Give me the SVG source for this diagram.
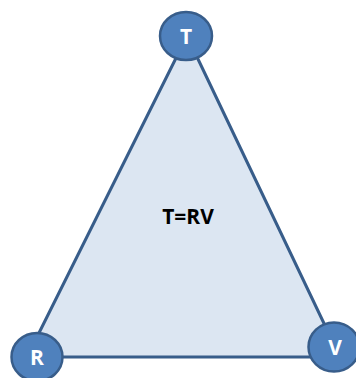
<svg xmlns="http://www.w3.org/2000/svg" width="356" height="378" viewBox="0 0 356 378">
<style>
.node ellipse{fill:#4f81bd;stroke:#385d8a;stroke-width:2.5}
.node text{fill:#fff;font-family:"Open Sans","Liberation Sans",Arial,sans-serif;font-weight:bold;font-size:21px;text-anchor:middle}
.lbl{fill:#000;font-family:"Open Sans","Liberation Sans",Arial,sans-serif;font-weight:bold;font-size:21px;text-anchor:middle}
</style>
<rect width="356" height="378" fill="#fff"/>
<g id="connectors">
<polygon points="187,36 27,357 340,357" fill="#dce6f2" stroke="#385d8a" stroke-width="3" stroke-linejoin="round"/>
</g>
<text class="lbl" x="188" y="224">T=RV</text>
<g id="node-T" class="node"><ellipse cx="186" cy="36" rx="26" ry="24"/><text x="186" y="44">T</text></g>
<g id="node-R" class="node"><ellipse cx="37" cy="357" rx="25.5" ry="24"/><text x="37" y="365">R</text></g>
<g id="node-V" class="node"><ellipse cx="334" cy="347" rx="25.5" ry="24.5"/><text x="335" y="355">V</text></g>
</svg>
